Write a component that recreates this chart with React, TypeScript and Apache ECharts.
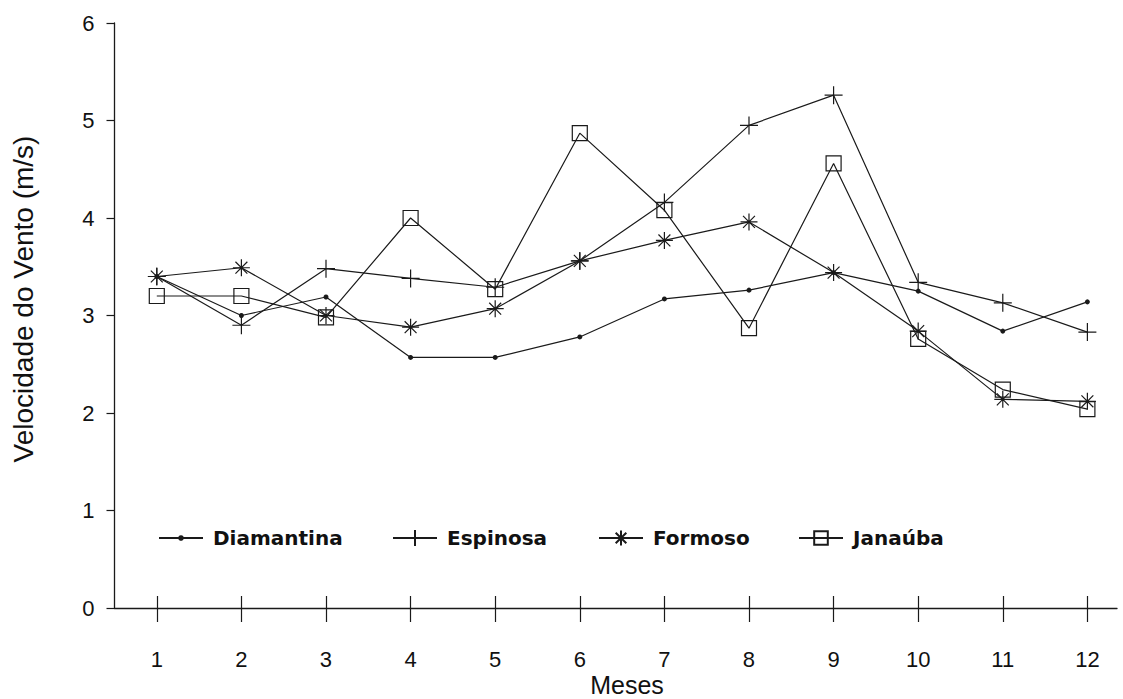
import React, { useEffect, useRef } from "react";
import * as echarts from "echarts";

const months = [1, 2, 3, 4, 5, 6, 7, 8, 9, 10, 11, 12];
const yTickValues = [0, 1, 2, 3, 4, 5, 6];
const diamantina = [3.4, 3.0, 3.19, 2.57, 2.57, 2.78, 3.17, 3.26, 3.44, 3.25, 2.84, 3.14];
const espinosa = [3.4, 2.9, 3.48, 3.38, 3.29, 3.56, 4.16, 4.95, 5.26, 3.34, 3.13, 2.83];
const formoso = [3.4, 3.49, 3.0, 2.88, 3.07, 3.56, 3.77, 3.96, 3.44, 2.84, 2.14, 2.12];
const janauba = [3.2, 3.2, 2.98, 4.0, 3.27, 4.87, 4.08, 2.87, 4.56, 2.76, 2.24, 2.04];
const seriesNames = ["Diamantina", "Espinosa", "Formoso", "Janaúba"];

const INK = "#1a1a1a";
const PLUS = "path://M10,0L10,20M0,10L20,10";
const STAR = "path://M10,0L10,20M0,10L20,10M3,3L17,17M3,17L17,3";

export default function App() {
  const ref = useRef<HTMLDivElement>(null);
  useEffect(() => {
    document.body.style.margin = "0";
    const chart = echarts.init(ref.current!, null, { renderer: "svg" });
    const pairs = (vals: number[]) => months.map((m, i) => [m, vals[i]]);
    const lineStyle = { color: INK, width: 1.2 };
    const strokeItem = { color: "none", borderColor: INK, borderWidth: 1.2 };
    const textH = 24;
    const legendText = {
      fontFamily: "DejaVu Sans",
      fontWeight: "bold" as const,
      fontSize: 20,
      lineHeight: textH,
      color: "#111",
      padding: [0, 0, 0, 5],
    };
    const legendCenter = 538;
    const legendDefs = [
      { name: seriesNames[0], left: 158, h: 7 },
      { name: seriesNames[1], left: 392, h: 20 },
      { name: seriesNames[2], left: 598, h: 19 },
      { name: seriesNames[3], left: 798, h: 17 },
    ];
    const xCommon = {
      type: "value" as const,
      min: 0.5,
      max: 12.35,
      position: "bottom" as const,
      splitLine: { show: false },
    };
    chart.setOption({
      animation: false,
      backgroundColor: "#ffffff",
      grid: { left: 114.5, right: 6, top: 23, bottom: 91, containLabel: false },
      legend: legendDefs.map((d) => ({
        data: [d.name],
        left: d.left,
        top: legendCenter - Math.max(d.h, textH) / 2,
        itemWidth: 44,
        itemHeight: d.h,
        padding: 0,
        selectedMode: false,
        textStyle: legendText,
      })),
      xAxis: [
        {
          ...xCommon,
          axisLine: { show: true, lineStyle: { color: INK, width: 1.3 } },
          axisTick: { show: true, inside: false, length: 14, customValues: months, lineStyle: { color: INK, width: 1.2 } },
          axisLabel: {
            customValues: months,
            margin: 40,
            fontFamily: "Liberation Sans",
            fontSize: 22,
            color: "#111",
          },
        },
        {
          ...xCommon,
          axisLine: { show: false },
          axisTick: { show: true, inside: true, length: 12, customValues: months, lineStyle: { color: INK, width: 1.2 } },
          axisLabel: { show: false },
        },
      ],
      yAxis: {
        type: "value",
        min: 0,
        max: 6,
        interval: 1,
        splitLine: { show: false },
        axisLine: { show: true, lineStyle: { color: INK, width: 1.3 } },
        axisTick: { show: true, inside: false, length: 8, lineStyle: { color: INK, width: 1.2 } },
        axisLabel: {
          margin: 20,
          fontFamily: "Liberation Sans",
          fontSize: 22,
          color: "#111",
          formatter: (v: number) => (yTickValues.includes(v) ? String(v) : ""),
        },
      },
      graphic: [
        {
          type: "text",
          x: 23,
          y: 299,
          rotation: Math.PI / 2,
          style: {
            text: "Velocidade do Vento (m/s)",
            font: "28px 'Liberation Sans'",
            fill: "#111",
            textAlign: "center",
            textVerticalAlign: "middle",
          },
        },
        {
          type: "text",
          x: 627,
          y: 685,
          style: {
            text: "Meses",
            font: "25px 'Liberation Sans'",
            fill: "#111",
            textAlign: "center",
            textVerticalAlign: "middle",
          },
        },
      ],
      series: [
        {
          name: seriesNames[0],
          type: "line",
          data: pairs(diamantina),
          symbol: "circle",
          symbolSize: 5,
          lineStyle,
          itemStyle: { color: INK },
        },
        {
          name: seriesNames[1],
          type: "line",
          data: pairs(espinosa),
          symbol: PLUS,
          symbolSize: 18,
          lineStyle,
          itemStyle: strokeItem,
        },
        {
          name: seriesNames[2],
          type: "line",
          data: pairs(formoso),
          symbol: STAR,
          symbolSize: 17,
          lineStyle,
          itemStyle: strokeItem,
        },
        {
          name: seriesNames[3],
          type: "line",
          data: pairs(janauba),
          symbol: "rect",
          symbolSize: 15,
          lineStyle,
          itemStyle: { color: "rgba(0,0,0,0)", borderColor: INK, borderWidth: 1.2 },
        },
      ],
    });
    return () => chart.dispose();
  }, []);
  return <div ref={ref} style={{ width: 1123, height: 699 }} />;
}
